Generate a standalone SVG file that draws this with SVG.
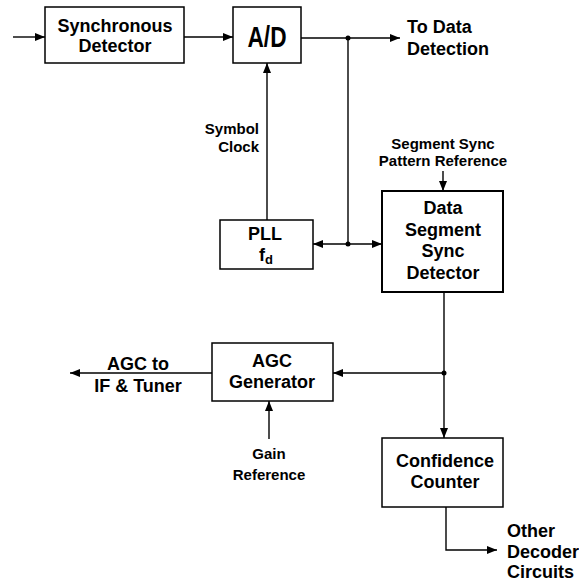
<svg xmlns="http://www.w3.org/2000/svg" width="579" height="583" viewBox="0 0 579 583">
<style>
.box{fill:#fff;stroke:#000;stroke-width:1.5}
.thick{stroke-width:2}
.ln{fill:none;stroke:#000;stroke-width:1.4}
.t{font-family:"Liberation Sans",Arial,sans-serif;font-weight:bold;font-size:18px;fill:#000}
.s{font-family:"Liberation Sans",Arial,sans-serif;font-weight:bold;font-size:15px;fill:#000}
.m{text-anchor:middle}
.e{text-anchor:end}
</style>
<defs>
<marker id="ah" markerUnits="userSpaceOnUse" markerWidth="11" markerHeight="9" refX="10" refY="4" orient="auto-start-reverse">
<path d="M0,0 L10,4 L0,8 z" fill="#000"/>
</marker>
</defs>
<g id="connectors">
<path class="ln" d="M13,37 H45" marker-end="url(#ah)"/>
<path class="ln" d="M184,37 H233" marker-end="url(#ah)"/>
<path class="ln" d="M301,38 H400" marker-end="url(#ah)"/>
<path class="ln" d="M348,38 V244"/>
<path class="ln" d="M313,244 H382" marker-start="url(#ah)" marker-end="url(#ah)"/>
<path class="ln" d="M267,220 V63" marker-end="url(#ah)"/>
<path class="ln" d="M443,171 V191" marker-end="url(#ah)"/>
<path class="ln" d="M444,292 V438" marker-end="url(#ah)"/>
<path class="ln" d="M444,373 H333" marker-end="url(#ah)"/>
<path class="ln" d="M212,373 H70" marker-end="url(#ah)"/>
<path class="ln" d="M269,439 V401" marker-end="url(#ah)"/>
<path class="ln" d="M446,507 V550 H497" marker-end="url(#ah)"/>
<circle cx="348" cy="38" r="2.5"/>
<circle cx="348" cy="244" r="2.5"/>
<circle cx="444" cy="373" r="2.5"/>
</g>
<g id="sync-detector">
<rect class="box" x="45" y="7" width="139" height="56"/>
<text class="t m" x="115" y="32">Synchronous</text>
<text class="t m" x="115" y="52">Detector</text>
</g>
<g id="ad">
<rect class="box" x="233" y="7" width="68" height="56"/>
<text class="m" x="267" y="47" font-family="Liberation Sans, Arial, sans-serif" font-weight="bold" font-size="30" textLength="39" lengthAdjust="spacingAndGlyphs">A/D</text>
</g>
<g id="to-data-detection">
<text class="t" x="407" y="33">To Data</text>
<text class="t" x="407" y="55">Detection</text>
</g>
<g id="symbol-clock">
<text class="s e" x="259" y="134">Symbol</text>
<text class="s e" x="259" y="152">Clock</text>
</g>
<g id="pll">
<rect class="box" x="220" y="220" width="93" height="49"/>
<text class="t m" x="265" y="240">PLL</text>
<text class="t" x="259" y="261">f<tspan font-size="13" dy="3">d</tspan></text>
</g>
<g id="segment-sync-ref">
<text class="s m" x="443" y="149">Segment Sync</text>
<text class="s m" x="443" y="166">Pattern Reference</text>
</g>
<g id="dssd">
<rect class="box thick" x="382" y="191" width="121" height="101"/>
<text class="t m" x="443" y="214">Data</text>
<text class="t m" x="443" y="236">Segment</text>
<text class="t m" x="443" y="257">Sync</text>
<text class="t m" x="443" y="279">Detector</text>
</g>
<g id="agc-generator">
<rect class="box" x="212" y="343" width="121" height="58"/>
<text class="t m" x="272" y="367">AGC</text>
<text class="t m" x="272" y="388">Generator</text>
</g>
<g id="agc-out">
<text class="t m" x="138" y="370">AGC to</text>
<text class="t m" x="138" y="392">IF &amp; Tuner</text>
</g>
<g id="gain-reference">
<text class="s m" x="269" y="459">Gain</text>
<text class="s m" x="269" y="480">Reference</text>
</g>
<g id="confidence-counter">
<rect class="box" x="382" y="438" width="121" height="69"/>
<text class="t m" x="445" y="467">Confidence</text>
<text class="t m" x="445" y="488">Counter</text>
</g>
<g id="other-decoder">
<text class="t" x="507" y="537">Other</text>
<text class="t" x="507" y="558">Decoder</text>
<text class="t" x="507" y="578">Circuits</text>
</g>
</svg>
